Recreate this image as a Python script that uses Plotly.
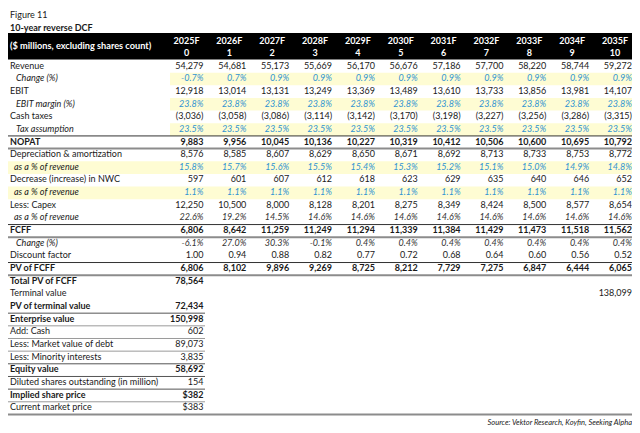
import plotly.graph_objects as go

# ---------------- data ----------------
years = ["2025F", "2026F", "2027F", "2028F", "2029F", "2030F", "2031F", "2032F", "2033F", "2034F", "2035F"]
periods = ["0", "1", "2", "3", "4", "5", "6", "7", "8", "9", "10"]

revenue = [54279, 54681, 55173, 55669, 56170, 56676, 57186, 57700, 58220, 58744, 59272]
revenue_change = [-0.7, 0.7, 0.9, 0.9, 0.9, 0.9, 0.9, 0.9, 0.9, 0.9, 0.9]
ebit = [12918, 13014, 13131, 13249, 13369, 13489, 13610, 13733, 13856, 13981, 14107]
ebit_margin = [23.8] * 11
cash_taxes = [-3036, -3058, -3086, -3114, -3142, -3170, -3198, -3227, -3256, -3286, -3315]
tax_rate = [23.5] * 11
nopat = [9883, 9956, 10045, 10136, 10227, 10319, 10412, 10506, 10600, 10695, 10792]
da = [8576, 8585, 8607, 8629, 8650, 8671, 8692, 8713, 8733, 8753, 8772]
da_pct = [15.8, 15.7, 15.6, 15.5, 15.4, 15.3, 15.2, 15.1, 15.0, 14.9, 14.8]
nwc = [597, 601, 607, 612, 618, 623, 629, 635, 640, 646, 652]
nwc_pct = [1.1] * 11
capex = [12250, 10500, 8000, 8128, 8201, 8275, 8349, 8424, 8500, 8577, 8654]
capex_pct = [22.6, 19.2, 14.5, 14.6, 14.6, 14.6, 14.6, 14.6, 14.6, 14.6, 14.6]
fcff = [6806, 8642, 11259, 11249, 11294, 11339, 11384, 11429, 11473, 11518, 11562]
fcff_change = [-6.1, 27.0, 30.3, -0.1, 0.4, 0.4, 0.4, 0.4, 0.4, 0.4, 0.4]
discount = [1.00, 0.94, 0.88, 0.82, 0.77, 0.72, 0.68, 0.64, 0.60, 0.56, 0.52]
pv_fcff = [6806, 8102, 9896, 9269, 8725, 8212, 7729, 7275, 6847, 6444, 6065]

summary_labels = ["Total PV of FCFF", "Terminal value", "PV of terminal value", "Enterprise value",
                  "Add: Cash", "Less: Market value of debt", "Less: Minority interests", "Equity value",
                  "Diluted shares outstanding (in million)", "Implied share price", "Current market price"]
summary_values = ["78,564", "", "72,434", "150,998", "602", "89,073", "3,835", "58,692", "154", "$382", "$383"]
summary_bold = [True, False, True, True, False, False, False, True, False, True, False]
terminal_value = 138099

# ---------------- formatting ----------------
def fnum(v):
    return f"({abs(v):,})" if v < 0 else f"{v:,}"

def fpct(v):
    return f"{v:.1f}%"

def fdec(v):
    return f"{v:.2f}"

# (label, texts, kind)  kind: n=normal, b=bold, y=yellow/blue italic, g=gray italic
main_rows = [
    ("Revenue", [fnum(v) for v in revenue], "n"),
    ("Change (%)", [fpct(v) for v in revenue_change], "y"),
    ("EBIT", [fnum(v) for v in ebit], "n"),
    ("EBIT margin (%)", [fpct(v) for v in ebit_margin], "y"),
    ("Cash taxes", [fnum(v) for v in cash_taxes], "n"),
    ("Tax assumption", [fpct(v) for v in tax_rate], "y"),
    ("NOPAT", [fnum(v) for v in nopat], "b"),
    ("Depreciation & amortization", [fnum(v) for v in da], "n"),
    ("as a % of revenue", [fpct(v) for v in da_pct], "y"),
    ("Decrease (increase) in NWC", [fnum(v) for v in nwc], "n"),
    ("as a % of revenue", [fpct(v) for v in nwc_pct], "y"),
    ("Less: Capex", [fnum(v) for v in capex], "n"),
    ("as a % of revenue", [fpct(v) for v in capex_pct], "g"),
    ("FCFF", [fnum(v) for v in fcff], "b"),
    ("Change (%)", [fpct(v) for v in fcff_change], "g"),
    ("Discount factor", [fdec(v) for v in discount], "n"),
    ("PV of FCFF", [fnum(v) for v in pv_fcff], "b"),
]

# ---------------- layout constants ----------------
# the page body has an 8px margin, so the figure is drawn 8px in and the axes
# ranges are offset so that data units equal page pixels
PAD = 8
W, H = 640, 433
FONT = "Lato"
FS = 9
ROW0 = 66.3
RH = 12.66
X_LEFT = 7
X_RIGHT = 635
COL_R0 = 203.5
COL_W = 42.85
Y_BG = "#FEFCD3"
BLUE = "#2f93d2"
DARK = "#1a1a1a"

col_r = [COL_R0 + i * COL_W for i in range(len(years))]

def yc(r):
    return ROW0 + r * RH

fig = go.Figure()
shapes = []

# header band
shapes.append(dict(type="rect", xref="x", yref="y", x0=X_LEFT, x1=X_RIGHT, y0=33, y1=59.5,
                   fillcolor="black", line_width=0, layer="below"))

# yellow bands ("as a % of revenue" inputs span the whole row)
for r, (lab, vals, kind) in enumerate(main_rows):
    if kind == "y":
        x0 = X_LEFT if lab.startswith("as") else 170
        shapes.append(dict(type="rect", xref="x", yref="y", x0=x0, x1=X_RIGHT,
                           y0=yc(r) - RH / 2, y1=yc(r) + RH / 2,
                           fillcolor=Y_BG, line_width=0, layer="below"))

def hline(yv, x0, x1, color, width):
    shapes.append(dict(type="line", xref="x", yref="y", x0=x0, x1=x1, y0=yv, y1=yv,
                       line=dict(color=color, width=width)))

# lines around bold rows
for r, (lab, vals, kind) in enumerate(main_rows):
    if kind == "b":
        hline(yc(r) - RH / 2, X_LEFT, X_RIGHT, "#333333", 1)
        hline(yc(r) + RH / 2, X_LEFT, X_RIGHT, "#8c8c8c", 2)

# summary lines
n_main = len(main_rows)
for k in range(len(summary_labels)):
    r = n_main + k
    if k >= 3:
        col = "#555555" if summary_bold[k] or k in (8,) else "#9a9a9a"
        hline(yc(r) - RH / 2, X_LEFT, 205, col, 1)
hline(yc(n_main + len(summary_labels) - 1) + RH / 2, X_LEFT, X_RIGHT, "#8c8c8c", 2)

# ---------------- text ----------------
def add_text(xs, ys, texts, pos, color, weight="normal", style="normal", size=FS):
    fig.add_trace(go.Scatter(x=xs, y=ys, text=texts, mode="text", textposition=pos,
                             textfont=dict(family=FONT, size=size, color=color, weight=weight, style=style),
                             hoverinfo="skip", showlegend=False, cliponaxis=False))

# titles
add_text([10], [15.5], ["Figure 11"], "middle right", DARK)
add_text([10], [28.3], ["10-year reverse DCF"], "middle right", DARK, weight="bold")

# header
add_text([10], [46.5], ["($ millions, excluding shares count)"], "middle right", "white", weight="bold", size=9.2)
add_text([c - 17 for c in col_r], [41.5] * len(years), years, "middle center", "white", weight="bold")
add_text([c - 17 for c in col_r], [53.3] * len(periods), periods, "middle center", "white", weight="bold")

# main rows
for r, (lab, vals, kind) in enumerate(main_rows):
    y = yc(r)
    if kind == "n":
        add_text([10], [y], [lab], "middle right", DARK)
        add_text(col_r, [y] * len(vals), vals, "middle left", DARK)
    elif kind == "b":
        add_text([10], [y], [lab], "middle right", DARK, weight="bold")
        add_text(col_r, [y] * len(vals), vals, "middle left", DARK, weight="bold")
    elif kind == "y":
        indent = 14 if lab.startswith("as") else 16
        add_text([indent], [y], [lab], "middle right", DARK, style="italic")
        add_text(col_r, [y] * len(vals), vals, "middle left", BLUE, style="italic")
    else:
        indent = 14 if lab.startswith("as") else 16
        add_text([indent], [y], [lab], "middle right", DARK, style="italic")
        add_text(col_r, [y] * len(vals), vals, "middle left", "#333333", style="italic")

# summary rows
for k, lab in enumerate(summary_labels):
    r = n_main + k
    w = "bold" if summary_bold[k] else "normal"
    add_text([10], [yc(r)], [lab], "middle right", DARK, weight=w)
    if summary_values[k]:
        add_text([col_r[0]], [yc(r)], [summary_values[k]], "middle left", DARK, weight=w)
# terminal value in final column
add_text([col_r[-1]], [yc(n_main + 1)], [f"{terminal_value:,}"], "middle left", DARK)

# source
add_text([632], [423], ["Source: Vektor Research, Koyfin, Seeking Alpha"], "middle left", DARK,
         style="italic", size=7.5)

fig.update_layout(
    width=W - PAD, height=H - PAD,
    margin=dict(l=0, r=0, t=0, b=0),
    paper_bgcolor="white", plot_bgcolor="white",
    xaxis=dict(range=[PAD, W], visible=False, fixedrange=True),
    yaxis=dict(range=[H, PAD], visible=False, fixedrange=True),
    shapes=shapes,
)

fig.write_html("out.html")
